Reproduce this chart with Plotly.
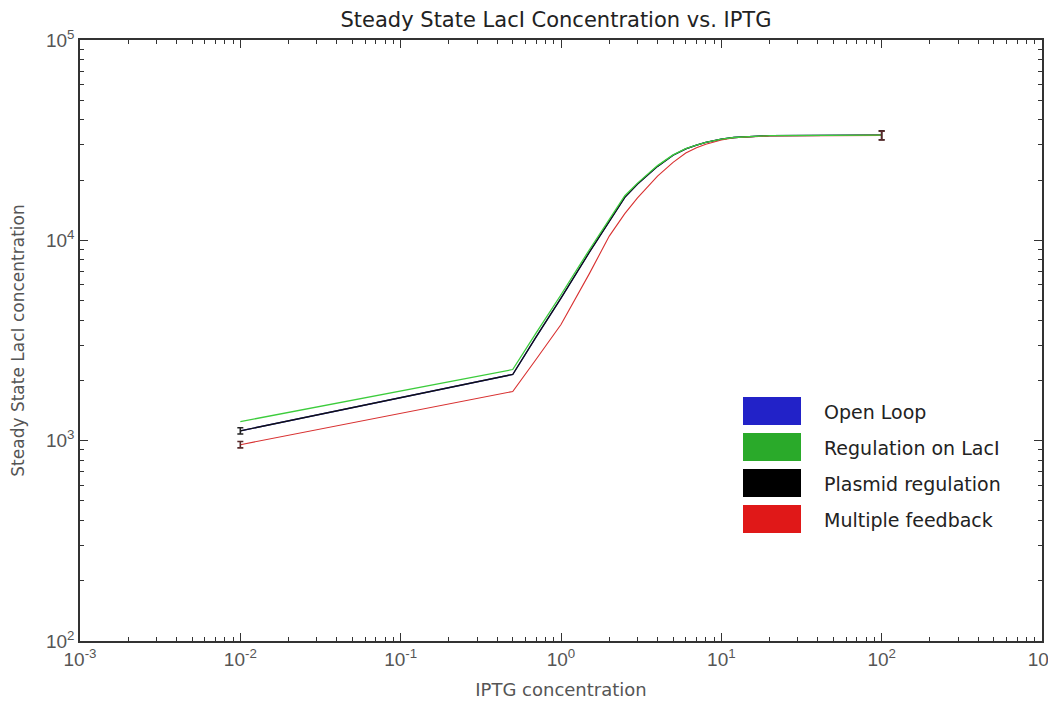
import plotly.graph_objects as go

# IPTG concentration (x) and steady state LacI levels
iptg = [0.01, 0.5, 0.7, 1, 1.5, 2, 2.5, 3, 4, 5, 6, 7, 8, 10, 12, 20, 100]
open_loop = [1120, 2140, 3300, 5150, 8700, 12500, 16400, 19100, 23400, 26600,
             28600, 29900, 30800, 32000, 32600, 33300, 33500]
reg_laci = [1245, 2265, 3450, 5350, 8950, 12800, 16700, 19300, 23600, 26700,
            28700, 29900, 30800, 32000, 32600, 33300, 33500]
plasmid_reg = [1120, 2140, 3300, 5150, 8700, 12500, 16400, 19100, 23400, 26600,
               28600, 29900, 30800, 32000, 32600, 33300, 33500]
multi_fb = [955, 1760, 2550, 3800, 6800, 10500, 13600, 16300, 20900, 24500,
            27300, 29000, 30200, 31700, 32500, 33200, 33400]

# error bars, only at the first and last IPTG value
err_plasmid = [40, 1700]
err_multi = [35, 1700]

x_ticks = [1e-3, 1e-2, 1e-1, 1, 10, 100, 1000]
x_labels = ["10<sup>-3</sup>", "10<sup>-2</sup>", "10<sup>-1</sup>", "10<sup>0</sup>",
            "10<sup>1</sup>", "10<sup>2</sup>", "10<sup>3</sup>"]
y_ticks = [100, 1000, 10000, 100000]
y_labels = ["10<sup>2</sup>", "10<sup>3</sup>", "10<sup>4</sup>", "10<sup>5</sup>"]

series_names = ["Open Loop", "Regulation on LacI", "Plasmid regulation", "Multiple feedback"]
colors = ["#2222c8", "#2aaa2a", "#000000", "#e01818"]
line_colors = ["#2222c8", "#3ccc3c", "#111111", "#d83030"]

fig = go.Figure()
fig.add_trace(go.Scatter(x=iptg, y=open_loop, mode="lines", name=series_names[0],
                         line=dict(color=line_colors[0], width=1.3)))
fig.add_trace(go.Scatter(x=iptg, y=plasmid_reg, mode="lines", name=series_names[2],
                         line=dict(color=line_colors[2], width=1.3)))
fig.add_trace(go.Scatter(x=iptg, y=multi_fb, mode="lines", name=series_names[3],
                         line=dict(color=line_colors[3], width=1.1)))
fig.add_trace(go.Scatter(x=iptg, y=reg_laci, mode="lines", name=series_names[1],
                         line=dict(color=line_colors[1], width=1.3)))

# end point error bars
for ys, err, col in [(plasmid_reg, err_plasmid, "#222"), (multi_fb, err_multi, "#5a2a2a")]:
    fig.add_trace(go.Scatter(x=[iptg[0], iptg[-1]], y=[ys[0], ys[-1]], mode="markers",
                             marker=dict(size=1, opacity=0),
                             error_y=dict(type="data", array=err, color=col,
                                          thickness=1.6, width=3)))

# page offset (body margin) and plot area in page pixels
OFF = 8
L, R, T, B = 80, 1042, 40, 641
W, H = R - L, B - T
FIG_W, FIG_H = 1056 - OFF, 704 - OFF


def px(x):
    return (x - L) / W


def py(y):
    return (B - y) / H


# legend drawn as big colored boxes with labels
box_tops = [397, 433, 469, 505]
for name, col, top in zip(series_names, colors, box_tops):
    fig.add_shape(type="rect", xref="paper", yref="paper",
                  x0=px(743), x1=px(801), y0=py(top), y1=py(top + 28),
                  fillcolor=col, line=dict(width=0))
    fig.add_annotation(x=px(822), y=py(top + 15), xref="paper", yref="paper",
                       text=name, showarrow=False, xanchor="left", yanchor="middle",
                       font=dict(family="DejaVu Sans", size=19, color="#222"))

# minor log ticks 2..9 in every decade
x_minor = [k * 10.0 ** e for e in range(-3, 3) for k in range(2, 10)]
y_minor = [k * 10.0 ** e for e in range(2, 5) for k in range(2, 10)]

axis_style = dict(type="log", showline=True, linecolor="#333", linewidth=1.5,
                  mirror="allticks", ticks="inside", ticklen=8, tickwidth=1.2,
                  tickcolor="#333", showgrid=False, zeroline=False,
                  ticklabeloverflow="allow",
                  tickfont=dict(family="Liberation Sans", size=19, color="#555"))
minor_style = dict(ticks="inside", ticklen=4, tickwidth=1, tickcolor="#333", showgrid=False)

fig.update_layout(
    width=FIG_W, height=FIG_H,
    margin=dict(l=L - OFF, r=1056 - R, t=T - OFF, b=704 - B, autoexpand=False),
    paper_bgcolor="white", plot_bgcolor="white",
    showlegend=False,
    title=dict(text="Steady State LacI Concentration vs. IPTG",
               x=(556 - OFF) / FIG_W, xanchor="center",
               y=1 - (20 - OFF) / FIG_H, yanchor="middle",
               font=dict(family="DejaVu Sans", size=21, color="#222")),
    xaxis=dict(axis_style, range=[-3, 3], tickvals=x_ticks, ticktext=x_labels,
               minor=dict(minor_style, tickvals=x_minor),
               title=dict(text="IPTG concentration", standoff=15,
                          font=dict(family="DejaVu Sans", size=18, color="#555"))),
    yaxis=dict(axis_style, range=[2, 5], tickvals=y_ticks, ticktext=y_labels,
               minor=dict(minor_style, tickvals=y_minor),
               title=dict(text="Steady State LacI concentration", standoff=18,
                          font=dict(family="DejaVu Sans", size=17, color="#555"))),
)

fig.write_html("out.html")
